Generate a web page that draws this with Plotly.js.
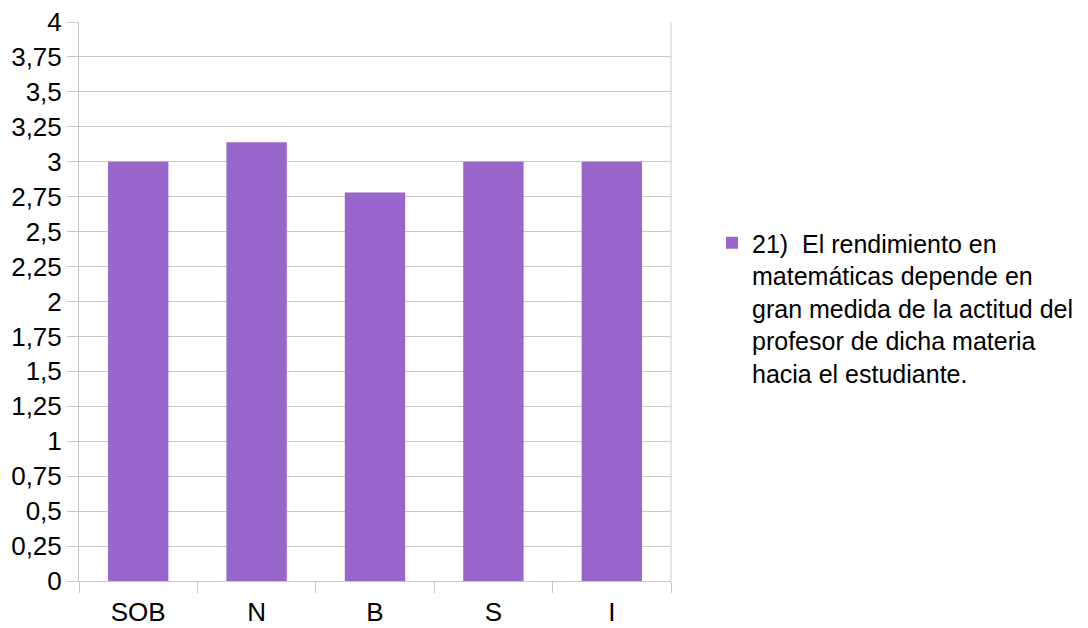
<!DOCTYPE html>
<html>
<head>
<meta charset="utf-8">
<script src="https://cdn.plot.ly/plotly-3.0.1.min.js"></script>
<style>html,body{margin:0;padding:0;background:#fff;}#chart{width:1088px;height:628px;}</style>
</head>
<body>
<div id="chart"></div>
<script>
const categories = ["SOB", "N", "B", "S", "I"];
const values = [3, 3.14, 2.78, 3, 3];
const seriesName = "21)  El rendimiento en<br>matemáticas depende en<br>gran medida de la actitud del<br>profesor de dicha materia<br>hacia el estudiante.";
const yTickVals = [0, 0.25, 0.5, 0.75, 1, 1.25, 1.5, 1.75, 2, 2.25, 2.5, 2.75, 3, 3.25, 3.5, 3.75, 4];
const yTickText = ["0", "0,25", "0,5", "0,75", "1", "1,25", "1,5", "1,75", "2", "2,25", "2,5", "2,75", "3", "3,25", "3,5", "3,75", "4"];

const gridCol = "#c8c8c8";
const trace = {
  type: "bar",
  x: categories,
  y: values,
  name: seriesName,
  marker: {color: "#9966cc"},
  showlegend: true
};

const layout = {
  width: 1088, height: 628,
  paper_bgcolor: "#ffffff", plot_bgcolor: "#ffffff",
  margin: {l: 79, r: 417, t: 22, b: 47},
  font: {family: "Liberation Sans, Arial, sans-serif", size: 26, color: "#000"},
  bargap: 0.49,
  xaxis: {
    type: "category",
    showgrid: false,
    showline: true, linecolor: gridCol, linewidth: 1,
    ticks: "outside", ticklen: 11, tickcolor: gridCol, tickson: "boundaries",
    ticklabelstandoff: 8,
    tickfont: {size: 26},
    fixedrange: true
  },
  yaxis: {
    range: [0, 4],
    tickvals: yTickVals, ticktext: yTickText,
    showgrid: true, gridcolor: gridCol, gridwidth: 1,
    showline: true, linecolor: gridCol, linewidth: 1,
    ticks: "outside", ticklen: 11, tickcolor: gridCol,
    zeroline: false,
    tickfont: {size: 26},
    fixedrange: true
  },
  shapes: [
    {type: "line", xref: "paper", yref: "paper", x0: 1, x1: 1, y0: 0, y1: 1, line: {color: gridCol, width: 1}}
  ],
  legend: {
    xref: "container", yref: "container",
    x: 712 / 1088, y: 1 - 220 / 628,
    xanchor: "left", yanchor: "top",
    valign: "top",
    font: {size: 25},
    bgcolor: "rgba(0,0,0,0)"
  }
};

Plotly.newPlot("chart", [trace], layout, {displayModeBar: false, staticPlot: true});
</script>
</body>
</html>
